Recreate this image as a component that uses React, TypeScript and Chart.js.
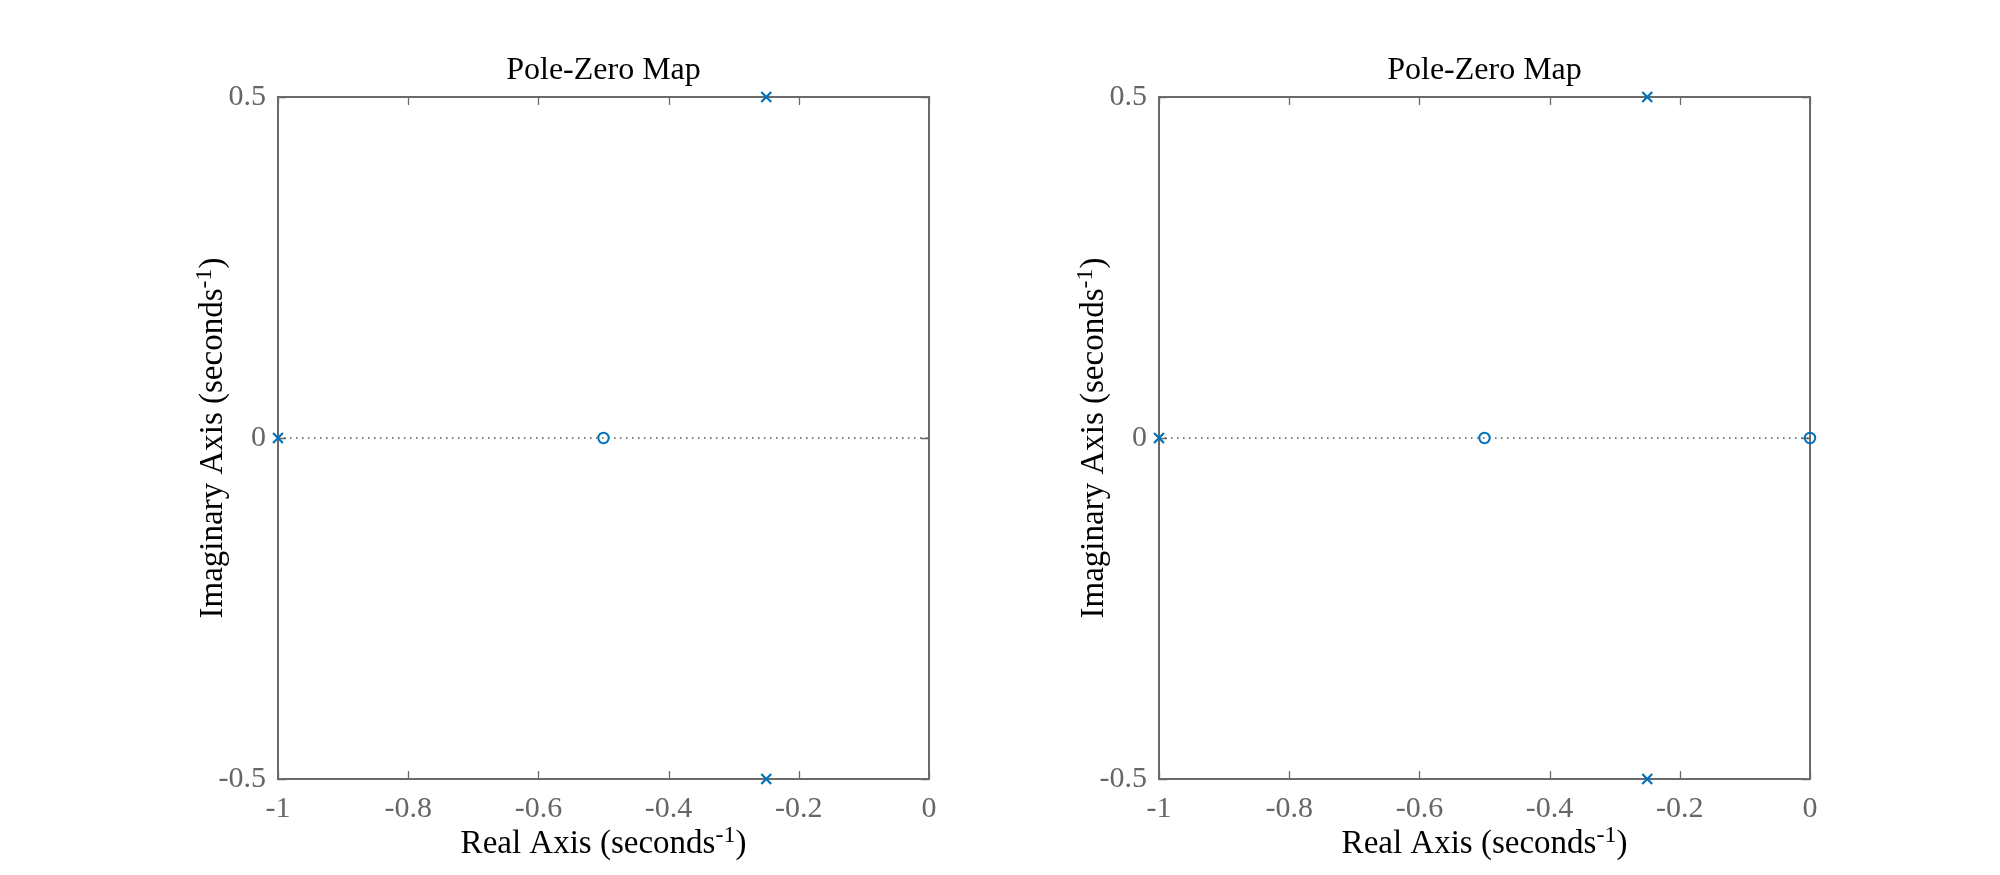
import React, { useEffect, useRef } from "react";
import { Chart, registerables } from "chart.js";

Chart.register(...registerables);

// ---- data ----
const poleReal = [-1, -0.25, -0.25];
const poleImag = [0, 0.5, -0.5];
const zeroRealLeft = [-0.5];
const zeroImagLeft = [0];
const zeroRealRight = [-0.5, 0];
const zeroImagRight = [0, 0];
const xTickValues = [-1, -0.8, -0.6, -0.4, -0.2, 0];
const yTickValues = [-0.5, 0, 0.5];
const xRange = [-1, 0];
const yRange = [-0.5, 0.5];
const titleText = "Pole-Zero Map";
const xLabelMain = "Real Axis (seconds";
const yLabelMain = "Imaginary Axis (seconds";
const labelSup = "-1";
const labelTail = ")";

const FONT = '"Liberation Serif", "Times New Roman", serif';
const BLUE = "#0072BD";
const AXIS_GRAY = "#6a6a6a";

function drawSupText(ctx: CanvasRenderingContext2D, main: string, sup: string, tail: string, cx: number, baseY: number, size: number) {
  ctx.font = `${size}px ${FONT}`;
  const w1 = ctx.measureText(main).width;
  const w3 = ctx.measureText(tail).width;
  const supSize = Math.round(size * 0.72);
  ctx.font = `${supSize}px ${FONT}`;
  const w2 = ctx.measureText(sup).width;
  const total = w1 + w2 + w3;
  let x = cx - total / 2;
  ctx.textAlign = "left";
  ctx.textBaseline = "alphabetic";
  ctx.font = `${size}px ${FONT}`;
  ctx.fillText(main, x, baseY);
  x += w1;
  ctx.font = `${supSize}px ${FONT}`;
  ctx.fillText(sup, x, baseY - size * 0.33);
  x += w2;
  ctx.font = `${size}px ${FONT}`;
  ctx.fillText(tail, x, baseY);
}

const pzDecor = {
  id: "pzDecor",
  beforeDatasetsDraw(chart: any) {
    const ctx = chart.ctx as CanvasRenderingContext2D;
    const a = chart.chartArea;
    const xs = chart.scales.x;
    const ys = chart.scales.y;
    ctx.save();
    ctx.strokeStyle = AXIS_GRAY;
    ctx.lineWidth = 1.3;
    const tl = 8;
    ctx.beginPath();
    for (const v of xTickValues) {
      const px = Math.round(xs.getPixelForValue(v)) + 0.5;
      ctx.moveTo(px, a.bottom);
      ctx.lineTo(px, a.bottom - tl);
      ctx.moveTo(px, a.top);
      ctx.lineTo(px, a.top + tl);
    }
    for (const v of yTickValues) {
      const py = Math.round(ys.getPixelForValue(v)) + 0.5;
      ctx.moveTo(a.left, py);
      ctx.lineTo(a.left + tl, py);
      ctx.moveTo(a.right, py);
      ctx.lineTo(a.right - tl, py);
    }
    ctx.stroke();
    ctx.lineWidth = 2;
    ctx.strokeRect(Math.round(a.left), Math.round(a.top), Math.round(a.right - a.left), Math.round(a.bottom - a.top));
    ctx.restore();
  },
  afterDraw(chart: any) {
    const ctx = chart.ctx as CanvasRenderingContext2D;
    const a = chart.chartArea;
    const cx = (a.left + a.right) / 2;
    const cy = (a.top + a.bottom) / 2;
    ctx.save();
    ctx.fillStyle = "#000";
    ctx.font = `32px ${FONT}`;
    ctx.textAlign = "center";
    ctx.textBaseline = "alphabetic";
    ctx.fillText(titleText, cx, a.top - 18);
    drawSupText(ctx, xLabelMain, labelSup, labelTail, cx, a.bottom + 74, 33);
    ctx.translate(a.left - 56, cy);
    ctx.rotate(-Math.PI / 2);
    drawSupText(ctx, yLabelMain, labelSup, labelTail, 0, 0, 33);
    ctx.restore();
  },
};

function PzChart(props: { zr: number[]; zi: number[]; left: number; padLeft: number; padRight: number }) {
  const ref = useRef<HTMLCanvasElement | null>(null);
  useEffect(() => {
    if (!ref.current) return;
    const poles = poleReal.map((x, i) => ({ x, y: poleImag[i] }));
    const zeros = props.zr.map((x, i) => ({ x, y: props.zi[i] }));
    const chart = new Chart(ref.current, {
      type: "scatter",
      data: {
        datasets: [
          {
            label: "poles",
            data: poles,
            pointStyle: "crossRot",
            pointRadius: 7,
            pointBorderWidth: 2.2,
            borderColor: BLUE,
            backgroundColor: BLUE,
            clip: false,
          } as any,
          {
            label: "zeros",
            data: zeros,
            pointStyle: "circle",
            pointRadius: 5.2,
            pointBorderWidth: 2,
            borderColor: BLUE,
            backgroundColor: "rgba(0,0,0,0)",
            clip: false,
          } as any,
          {
            type: "line",
            label: "real axis",
            data: [
              { x: xRange[0], y: 0 },
              { x: xRange[1], y: 0 },
            ],
            borderColor: "#555555",
            borderWidth: 1.5,
            borderDash: [1.5, 4.5],
            pointRadius: 0,
            clip: false,
          } as any,
        ],
      },
      options: {
        responsive: false,
        animation: false,
        events: [],
        layout: { padding: { left: props.padLeft, right: props.padRight, top: 97, bottom: 46 } },
        plugins: { legend: { display: false }, tooltip: { enabled: false }, title: { display: false } },
        scales: {
          x: {
            type: "linear",
            min: xRange[0],
            max: xRange[1],
            grid: { display: false, drawTicks: false },
            border: { display: false },
            afterBuildTicks: (s: any) => {
              s.ticks = xTickValues.map((v) => ({ value: v }));
            },
            afterFit: (s: any) => {
              s.height = 50;
            },
            ticks: {
              padding: 12,
              color: "#666666",
              font: { family: FONT, size: 30 },
              maxRotation: 0,
              autoSkip: false,
              callback: (v: any) => String(v),
            },
          },
          y: {
            type: "linear",
            min: yRange[0],
            max: yRange[1],
            grid: { display: false, drawTicks: false },
            border: { display: false },
            afterBuildTicks: (s: any) => {
              s.ticks = yTickValues.map((v) => ({ value: v }));
            },
            afterFit: (s: any) => {
              s.width = 60;
            },
            ticks: {
              padding: 12,
              color: "#666666",
              font: { family: FONT, size: 30 },
              autoSkip: false,
              callback: (v: any) => String(v),
            },
          },
        },
      } as any,
      plugins: [pzDecor],
    });
    return () => chart.destroy();
  }, []);
  return (
    <canvas
      ref={ref}
      width={1000}
      height={875}
      style={{ position: "absolute", left: props.left, top: 0, width: 1000, height: 875 }}
    />
  );
}

export default function App() {
  return (
    <div style={{ position: "absolute", left: 0, top: 0, width: 2000, height: 875, background: "#fff", overflow: "hidden" }}>
      <PzChart zr={zeroRealLeft} zi={zeroImagLeft} left={0} padLeft={218} padRight={71} />
      <PzChart zr={zeroRealRight} zi={zeroImagRight} left={1000} padLeft={99} padRight={190} />
    </div>
  );
}
